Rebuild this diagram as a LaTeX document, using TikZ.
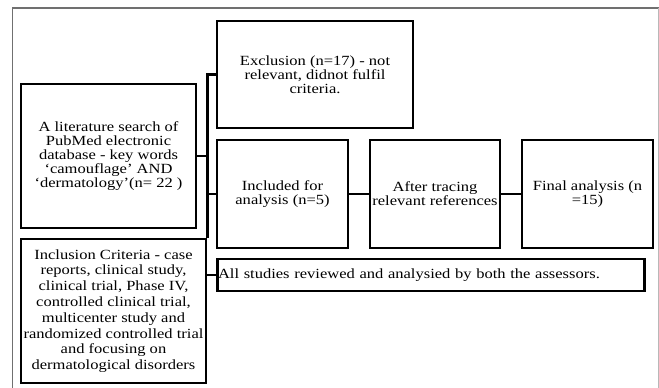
\documentclass[tikz,border=0pt]{standalone}
\usepackage{fontspec}
\setmainfont{Liberation Serif}[FakeStretch=1.18]
\usetikzlibrary{positioning}
\definecolor{Frame}{HTML}{707070}
\definecolor{FrameLight}{HTML}{B8B8B8}
\tikzset{
  stepbox/.style={draw=black,line width=2.8pt,align=center,inner xsep=1pt,inner ysep=2pt,
    font=\fontsize{14}{14.2}\selectfont},
  link/.style={draw=black,line width=2.8pt},
}

\begin{document}
\begin{tikzpicture}[x=1pt,y=-1pt]
    \useasboundingbox (0,0) rectangle (659,388);
    % page frame
    \draw[Frame,line width=2pt] (12,8) -- (659,8);
    \draw[Frame,line width=1pt] (12,8) -- (12,388);
    \draw[FrameLight,line width=1pt] (658,8) -- (658,388);

    \node[stepbox,minimum width=175,minimum height=144] (search) at (108.5,156)
      {A literature search of\\PubMed electronic\\database - key words\\`camouflage' AND\\`dermatology'(n= 22 )};
    \node[stepbox,minimum width=196,minimum height=107] (excl) at (315,74.5)
      {Exclusion (n=17) - not\\relevant, didnot fulfil\\criteria.};
    \node[stepbox,minimum width=131,minimum height=108] (incl) at (282.5,194)
      {Included for\\analysis (n=5)};
    \node[stepbox,minimum width=130,minimum height=108] (trace) at (435,194)
      {After tracing\\relevant references};
    \node[stepbox,minimum width=185,minimum height=144,font=\fontsize{14}{15.8}\selectfont] (crit) at (113.5,311)
      {Inclusion Criteria - case\\reports, clinical study,\\clinical trial, Phase IV,\\controlled clinical trial,\\multicenter study and\\randomized controlled trial\\and focusing on\\dermatological disorders};
    \node[stepbox,minimum width=131,minimum height=108] (final) at (587.5,194)
      {Final analysis (n\\=15)};
    \node[stepbox,minimum height=32,text width=426,inner xsep=0.5pt,align=left] (all) at (431,275)
      {All studies reviewed and analysied by both the assessors.};

    \draw[link] (excl.west) -| (crit.north east);
    \draw[link] (search.east) -- (search.east -| crit.north east);
    \draw[link] (incl.west -| crit.north east) -- (incl.west);
    \draw[link] (crit.east |- all.west) -- (all.west);
    \draw[link] (incl) -- (trace);
    \draw[link] (trace) -- (final);
  \end{tikzpicture}
\end{document}
